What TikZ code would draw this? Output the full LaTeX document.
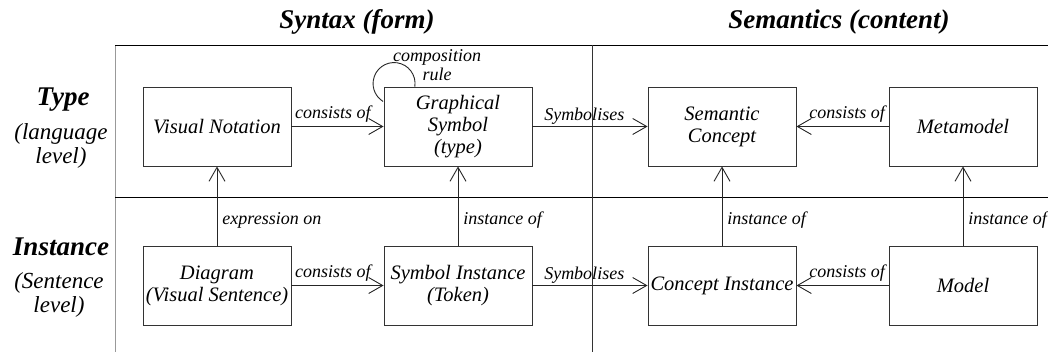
\documentclass[tikz,border=0pt]{standalone}
\usepackage{fontspec}
\setmainfont{Liberation Serif}
\usetikzlibrary{arrows.meta, positioning}

\begin{document}
\begin{tikzpicture}[x=1pt, y=-1pt,
  conceptbox/.style={draw=black!80, fill=white, line width=0.9pt, minimum width=148pt, minimum height=79pt, inner sep=0pt, align=center, font=\fontsize{20.5}{22}\selectfont\itshape},
  rel/.style={draw=black!85, line width=0.9pt, -{Straight Barb[length=14pt, width=16pt]}},
  lbl/.style={font=\fontsize{18}{19}\selectfont\itshape, inner sep=1pt, align=center},
  heading/.style={font=\fontsize{27}{30}\selectfont\bfseries\itshape},
  side/.style={font=\fontsize{23}{24}\selectfont\itshape, align=center},
]
\useasboundingbox (0,0) rectangle (1048,352);
% Define the rows and columns
\pgfmathsetmacro{\yType}{126.5}
\pgfmathsetmacro{\yInst}{285.5}
\pgfmathsetmacro{\xA}{217}
\pgfmathsetmacro{\xB}{458}
\pgfmathsetmacro{\xC}{722}
\pgfmathsetmacro{\xD}{963}

% Draw frame
\draw[line width=1pt, gray!80] (115,352) -- (115,45);
\draw[line width=0.8pt] (115,45) -- (1048,45);
\draw[line width=0.8pt] (115,197) -- (1048,197);
\draw[line width=0.8pt, black!80] (592,45) -- (592,352);

% Headings
\node[heading] (syntax) at (357,22) {Syntax (form)};
\node[heading] (semantics) at (839,22) {Semantics (content)};
\node[heading] (typehead) at (63,100) {Type};
\node[side] (typesub) at (61,146) {(language\\level)};
\node[heading] (insthead) at (61,247) {Instance};
\node[side] (instsub) at (59,295) {(Sentence\\level)};

% Type level
\node[conceptbox] (notation) at (\xA,\yType) {Visual Notation};
\node[conceptbox] (symbol) at (\xB,\yType) {Graphical\\Symbol\\(type)};
\node[conceptbox] (concept) at (\xC,\yType) {Semantic\\Concept};
\node[conceptbox] (metamodel) at (\xD,\yType) {Metamodel};
% Instance level
\node[conceptbox] (diagram) at (\xA,\yInst) {Diagram\\(Visual Sentence)};
\node[conceptbox] (token) at (\xB,\yInst) {Symbol Instance\\(Token)};
\node[conceptbox] (conceptinst) at (\xC,\yInst) {Concept Instance};
\node[conceptbox] (model) at (\xD,\yInst) {Model};

% Composition loop
\draw[draw=black!85, line width=0.9pt] ([xshift=31.3pt]symbol.north west) arc[start angle=8.2, end angle=-238.4, radius=21];
\node[lbl] (comprule) at (437,65) {composition\\rule};

% Horizontal relations
\draw[rel] (notation) -- (symbol) node[lbl, pos=.45, above=3pt] {consists of};
\draw[rel] (symbol) -- (concept) node[lbl, pos=.45, above=1pt] {Symbolises};
\draw[rel] (metamodel) -- (concept) node[lbl, pos=.45, above=3pt] {consists of};
\draw[rel] (diagram) -- (token) node[lbl, pos=.45, above=3pt] {consists of};
\draw[rel] (token) -- (conceptinst) node[lbl, pos=.45, above=1pt] {Symbolises};
\draw[rel] (model) -- (conceptinst) node[lbl, pos=.45, above=3pt] {consists of};

% Vertical relations
\draw[rel] (diagram) -- (notation) node[lbl, pos=.32, right=4pt] {expression on};
\draw[rel] (token) -- (symbol) node[lbl, pos=.32, right=4pt] {instance of};
\draw[rel] (conceptinst) -- (concept) node[lbl, pos=.32, right=4pt] {instance of};
\draw[rel] (model) -- (metamodel) node[lbl, pos=.32, right=4pt] {instance of};

\end{tikzpicture}
\end{document}
